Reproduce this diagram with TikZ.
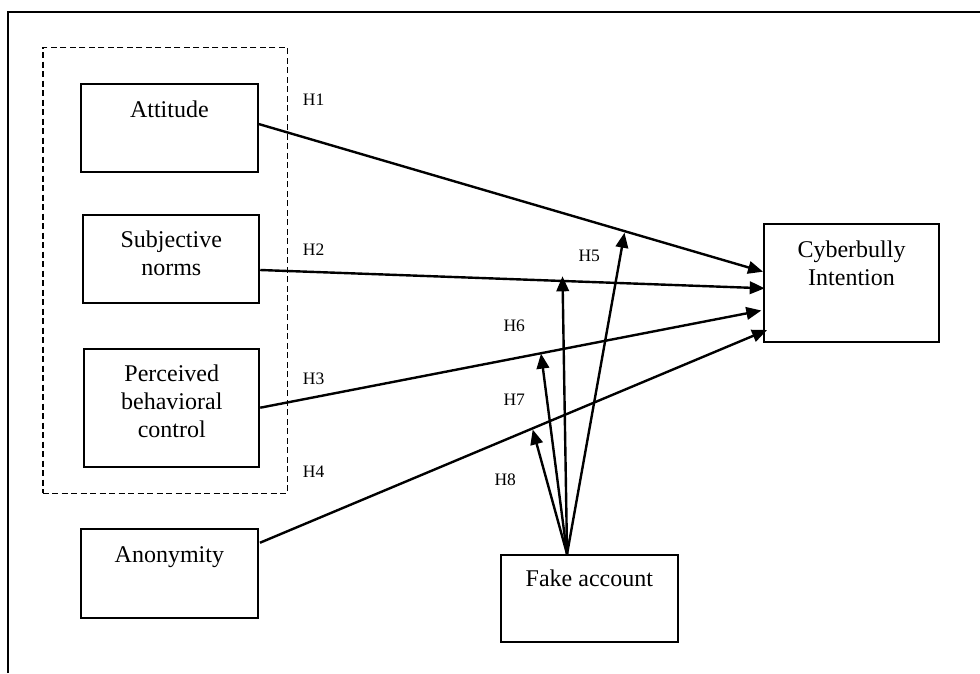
\documentclass[tikz,border=0pt]{standalone}
\usepackage{fontspec}
\setmainfont{Liberation Serif}
\usetikzlibrary{arrows.meta,calc,fit}
\tikzset{
  box/.style={draw,line width=1.9pt,inner sep=0pt},
  dbox/.style={draw,line width=1.6pt,dash pattern=on 6pt off 3.5pt,inner sep=0pt},
  lab/.style={font=\fontsize{24}{27.8}\selectfont,align=center,inner sep=0pt,anchor=north},
  hl/.style={font=\fontsize{17.5}{20}\selectfont,inner sep=0pt,anchor=base west},
  arr/.style={line width=2.4pt,-{Triangle[length=15pt,width=12.5pt]}},
}
\newcommand{\fs}{\rule{0pt}{20pt}}
\begin{document}
\begin{tikzpicture}[x=1pt,y=-1pt]
\useasboundingbox (0,0) rectangle (980,673);
% outer frame
\draw[line width=1.8pt] (8,673) -- (8,12.3) -- (980,12.3);
% group
\node[dbox,fit={(42.7,47.3) (287.5,493.3)}] (grp) {};
% boxes
\node[box,fit={(81,84.3) (257.7,172)}] (att) {};
\node[box,fit={(83.3,214.7) (259.3,302.7)}] (sub) {};
\node[box,fit={(84.3,349.3) (259.3,466.7)}] (pbc) {};
\node[box,fit={(81,529) (257.7,617.7)}] (ano) {};
\node[box,fit={(501,555) (677.7,642)}] (fake) {};
\node[box,fit={(764,224.3) (939,341.7)}] (cyb) {};
% texts
\node[lab] (attT) at (att.center |- 0,97.3) {\fs Attitude};
\node[lab] (subT) at (sub.center |- 0,227.3) {\fs Subjective\\norms};
\node[lab] (pbcT) at (pbc.center |- 0,361.7) {\fs Perceived\\behavioral\\control};
\node[lab] (anoT) at (ano.center |- 0,542.7) {\fs Anonymity};
\node[lab] (fakeT) at (fake.center |- 0,566.7) {\fs Fake account};
\node[lab] (cybT) at (cyb.center |- 0,237.3) {\fs Cyberbully\\Intention};
% hypothesis labels
\node[hl] (h1) at (302.7,105.7) {H1};
\node[hl] (h2) at (302.7,255.7) {H2};
\node[hl] (h3) at (302.7,384.3) {H3};
\node[hl] (h4) at (302.7,477.3) {H4};
\node[hl] (h5) at (578.3,261.7) {H5};
\node[hl] (h6) at (503.3,331.7) {H6};
\node[hl] (h7) at (503.3,405.7) {H7};
\node[hl] (h8) at (494.3,485.7) {H8};
% direct paths
\draw[arr] ([shift={(0,-4.15)}]att.east) -- ([shift={(0,-11.3)}]cyb.west);
\draw[arr] ([shift={(0,11.3)}]sub.east) -- ([shift={(1.7,5.3)}]cyb.west);
\draw[arr] ([shift={(0,-0.3)}]pbc.east) -- ([shift={(-1.7,27.5)}]cyb.west);
\draw[arr] ([shift={(1.3,-30.6)}]ano.east) -- ([shift={(4,47)}]cyb.west);
% moderation
\coordinate (src) at ([shift={(-22.3,0)}]fake.north);
\coordinate (t5) at (624.5,232.7);
\coordinate (t2) at (562.5,276.3);
\coordinate (t6) at (541,353.6);
\coordinate (t7) at (532.7,429.5);
\draw[arr] (src) -- (t5);
\draw[arr] (src) -- (t2);
\draw[arr] (src) -- (t6);
\draw[arr] (src) -- (t7);
\end{tikzpicture}
\end{document}
